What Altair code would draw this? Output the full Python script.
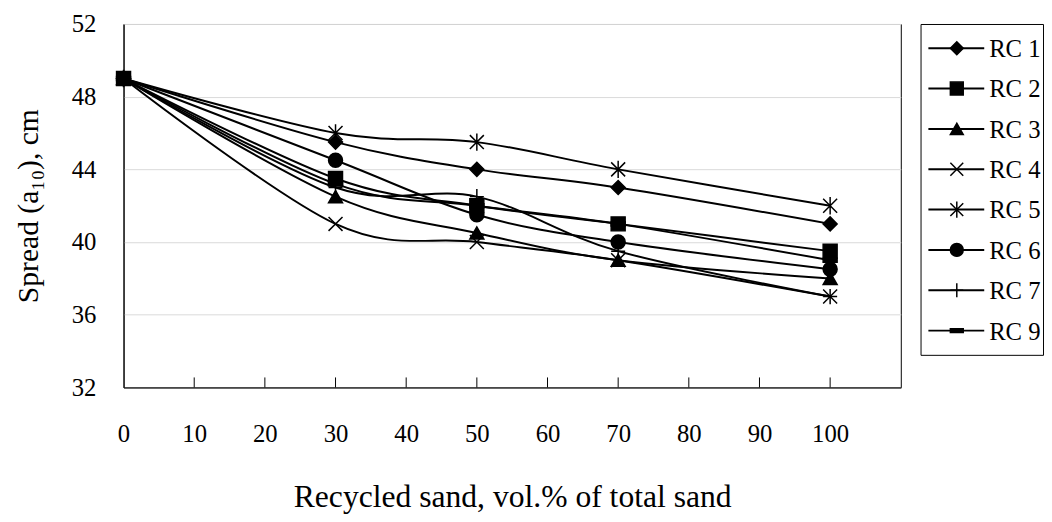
import altair as alt
import pandas as pd

# ---------------- data ----------------
x_vals = [0, 30, 50, 70, 100]
series = ["RC 1", "RC 2", "RC 3", "RC 4", "RC 5", "RC 6", "RC 7", "RC 9"]
rc1 = [49, 45.5, 44.0, 43.0, 41.0]
rc2 = [49, 43.5, 42.0, 41.0, 39.5]
rc3 = [49, 42.5, 40.5, 39.0, 38.0]
rc4 = [49, 41.0, 40.0, 39.0, 37.0]
rc5 = [49, 46.0, 45.5, 44.0, 42.0]
rc6 = [49, 44.5, 41.5, 40.0, 38.5]
rc7 = [49, 43.0, 42.5, 39.5, 37.0]
rc9 = [49, 43.2, 42.0, 41.0, 39.0]
x_ticks = [0, 10, 20, 30, 40, 50, 60, 70, 80, 90, 100]
inner_ticks = [10, 20, 30, 40, 50, 60, 70, 80, 90, 100]
y_ticks = [32, 36, 40, 44, 48, 52]

shapes = [
    "diamond",
    "square",
    "triangle-up",
    "M-1,-1L1,1M-1,1L1,-1",
    "M-1,-1L1,1M-1,1L1,-1M0,-1.25L0,1.25",
    "circle",
    "M0,-1.1L0,1.1M-1,0L1,0",
    "M-1,-0.3L1,-0.3L1,0.3L-1,0.3Z",
]

rows = []
for name, vals in zip(series, [rc1, rc2, rc3, rc4, rc5, rc6, rc7, rc9]):
    for xv, yv in zip(x_vals, vals):
        rows.append({"series": name, "x": xv, "y": yv})
df = pd.DataFrame(rows)

FONT = "Liberation Serif"
shape_scale = alt.Scale(domain=series, range=shapes)

xs = alt.Scale(domain=[0, 110], nice=False, zero=False)
ys = alt.Scale(domain=[32, 52], nice=False, zero=False)

x_enc = alt.X(
    "x:Q", scale=xs,
    axis=alt.Axis(values=x_ticks, title="Recycled sand, vol.% of total sand",
                  grid=False, ticks=False, labelPadding=35, titlePadding=36,
                  labelFont=FONT, titleFont=FONT, labelFontSize=25, titleFontSize=32,
                  titleFontWeight="normal", labelColor="black", titleColor="black",
                  domainColor="black", labelFlush=False),
)
y_enc = alt.Y(
    "y:Q", scale=ys,
    axis=alt.Axis(values=y_ticks, title="Spread (a₁₀), cm",
                  grid=True, gridColor="#d9d9d9", gridWidth=1, ticks=False,
                  labelPadding=28, titlePadding=28,
                  labelFont=FONT, titleFont=FONT, labelFontSize=25, titleFontSize=30,
                  titleFontWeight="normal", labelColor="black", titleColor="black",
                  domainColor="black", labelFlush=False),
)

base = alt.Chart(df).encode(x=x_enc, y=y_enc)

lines = base.mark_line(interpolate="cardinal", color="black", strokeWidth=2).encode(
    detail="series:N"
)
points = base.mark_point(
    filled=True, fill="black", stroke="black", strokeWidth=1.5, size=200, opacity=1
).encode(shape=alt.Shape("series:N", scale=shape_scale, legend=None))

tick_df = pd.DataFrame({"t": inner_ticks})
ticks = alt.Chart(tick_df).mark_rule(color="black", strokeWidth=1).encode(
    x=alt.X("t:Q", scale=xs),
    y=alt.Y(datum=32, scale=ys),
    y2=alt.Y2(datum=32.55),
)

main = alt.layer(ticks, lines, points).properties(width=787, height=368)

# ---------------- legend panel ----------------
leg_df = pd.DataFrame({"series": series, "idx": list(range(len(series)))})
lx = alt.Scale(domain=[0, 125], nice=False, zero=False)
leg_y = alt.Y("idx:Q", scale=alt.Scale(domain=[-0.6, 7.6], reverse=True, nice=False, zero=False), axis=None)
leg_base = alt.Chart(leg_df)
leg_line = leg_base.mark_rule(color="black", strokeWidth=2).encode(
    x=alt.X(datum=8, type="quantitative", scale=lx, axis=None),
    x2=alt.X2(datum=65),
    y=leg_y,
)
leg_pt = leg_base.mark_point(
    filled=True, fill="black", stroke="black", strokeWidth=1.5, size=170, opacity=1
).encode(
    x=alt.X(datum=37, type="quantitative", scale=lx, axis=None),
    y=leg_y,
    shape=alt.Shape("series:N", scale=shape_scale, legend=None),
)
leg_txt = leg_base.mark_text(
    align="left", baseline="middle", font=FONT, fontSize=25, color="black", dy=1
).encode(
    x=alt.X(datum=70, type="quantitative", scale=lx, axis=None),
    y=leg_y,
    text="series:N",
)
legend = alt.layer(leg_line, leg_pt, leg_txt).properties(width=124, height=335)

chart = (
    alt.hconcat(main, legend, spacing=18)
    .resolve_scale(x="independent", y="independent", shape="shared")
    .properties(padding={"left": 5, "top": 0, "right": 0, "bottom": 0}, background="white")
    .configure_view(stroke="black", strokeWidth=1)
    .configure_concat(spacing=18)
)

chart.save("out.html", embed_options={"renderer": "svg", "actions": False})
